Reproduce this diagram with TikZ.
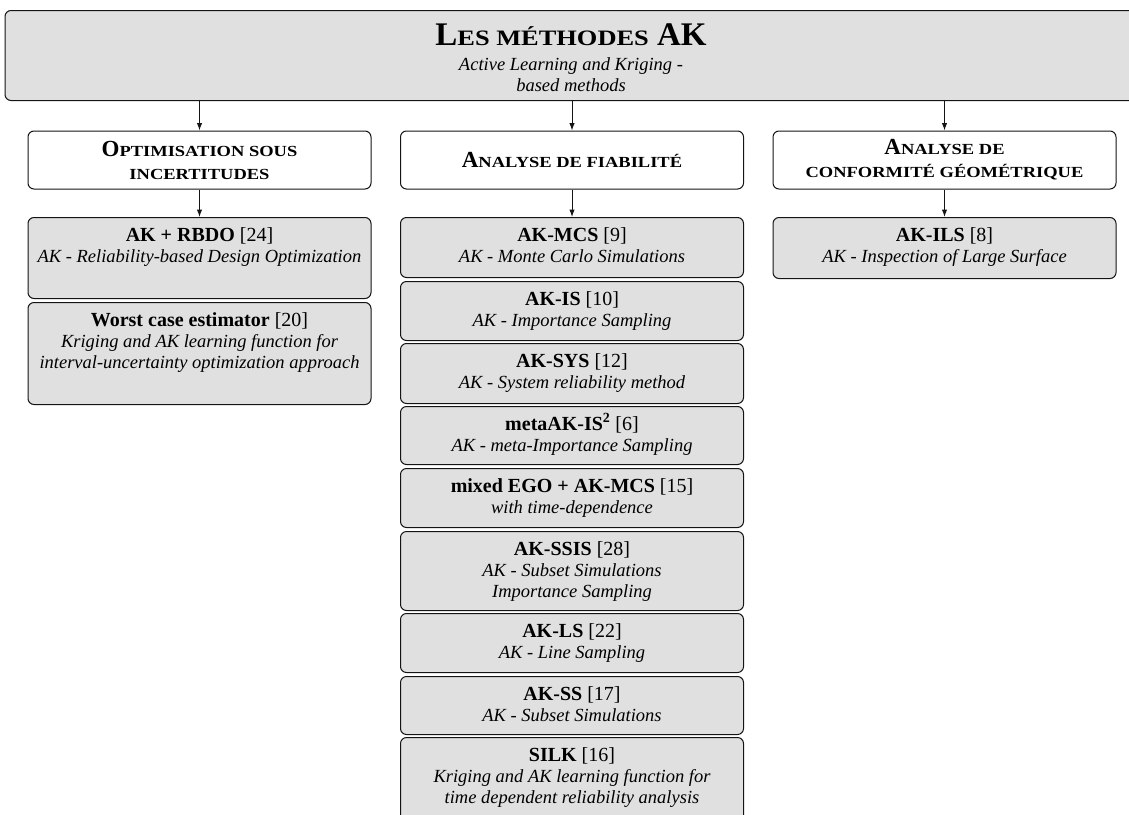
\documentclass[tikz,border=0pt]{standalone}
\usepackage{fontspec}
\setmainfont{Liberation Serif}
\newfontfamily\scfont[FakeStretch=1.2]{Liberation Serif}
\usetikzlibrary{arrows.meta}
\definecolor{boxgray}{RGB}{224,224,224}
\definecolor{edge}{RGB}{20,20,20}
% fake small caps
\newcommand\TitleSC[2]{{\bfseries\fontsize{33}{36}\selectfont #1{\scfont\fontsize{22}{36}\selectfont #2}}}
\newcommand\CatSC[2]{{\bfseries\fontsize{23}{23}\selectfont #1{\scfont\fontsize{15.4}{23}\selectfont #2}}}
\newcommand\CatRest[1]{{\scfont\bfseries\fontsize{15.4}{23}\selectfont #1}}
% category content
\newcommand\cat[1]{%
\begin{minipage}{335pt}\centering\fontsize{23}{23}\selectfont #1\end{minipage}}
% item content: height, bold heading, reference, italic text
\newcommand\itm[4]{%
\begin{minipage}[t][#1pt][t]{335pt}\centering\fontsize{18.5}{21}\selectfont
\rule{0pt}{21pt}{\fontsize{20}{21}\selectfont\textbf{#2} #3}\\
\itshape #4\end{minipage}}
\tikzset{
  basebox/.style={draw=edge, line width=1pt, rounded corners=6pt},
  topbox/.style={basebox, fill=boxgray, anchor=north, inner sep=0pt},
  catbox/.style={basebox, fill=white, minimum width=343pt, minimum height=58pt, inner sep=0pt},
  itembox/.style={basebox, fill=boxgray, anchor=north, inner xsep=4pt, inner ysep=3pt},
  arr/.style={-{Latex[length=7.5pt,width=5.5pt]}, line width=1pt, draw=edge}
}
\begin{document}
\begin{tikzpicture}[x=1pt,y=-1pt]
\useasboundingbox (0,0) rectangle (1129,814);
\clip (0,0) rectangle (1129,814);

% top box
\node[topbox] (top) at (571,10) {%
  \begin{minipage}[t][90pt][t]{1132pt}\centering\fontsize{18.5}{21}\selectfont
  \rule{0pt}{35pt}\TitleSC{L}{ES MÉTHODES}{\bfseries\fontsize{33}{36}\selectfont{} AK}\\[4pt]
  \itshape Active Learning and Kriging -\\
  based methods
  \end{minipage}};

% categories
\node[catbox] (cat1) at (199.5,160) {\cat{\CatSC{O}{PTIMISATION SOUS}\\ \CatRest{INCERTITUDES}}};
\node[catbox] (cat2) at (572,160) {\cat{\CatSC{A}{NALYSE DE FIABILITÉ}}};
\node[catbox] (cat3) at (944.5,160) {\cat{\CatSC{A}{NALYSE DE}\\ \CatRest{CONFORMITÉ GÉOMÉTRIQUE}}};

% left column
\node[itembox] (rbdo) at (199.5,217) {\itm{75}{AK + RBDO}{[24]}{AK - Reliability-based Design Optimization}};
\node[itembox] (worst) at (199.5,302) {\itm{96}{Worst case estimator}{[20]}{Kriging and AK learning function for\\ interval-uncertainty optimization approach}};

% middle column
\node[itembox] (mcs) at (572,217) {\itm{54}{AK-MCS}{[9]}{AK - Monte Carlo Simulations}};
\node[itembox] (is) at (572,281) {\itm{53}{AK-IS}{[10]}{AK - Importance Sampling}};
\node[itembox] (sys) at (572,343) {\itm{54}{AK-SYS}{[12]}{AK - System reliability method}};
\node[itembox] (meta) at (572,406) {\itm{52}{metaAK-IS\textsuperscript{2}}{[6]}{AK - meta-Importance Sampling}};
\node[itembox] (ego) at (572,468) {\itm{53}{mixed EGO + AK-MCS}{[15]}{with time-dependence}};
\node[itembox] (ssis) at (572,531) {\itm{73}{AK-SSIS}{[28]}{AK - Subset Simulations\\ Importance Sampling}};
\node[itembox] (ls) at (572,613) {\itm{53}{AK-LS}{[22]}{AK - Line Sampling}};
\node[itembox] (ss) at (572,676) {\itm{52}{AK-SS}{[17]}{AK - Subset Simulations}};
\node[itembox] (silk) at (572,737) {\itm{96}{SILK}{[16]}{Kriging and AK learning function for\\ time dependent reliability analysis}};

% right column
\node[itembox] (ils) at (944.5,217) {\itm{55}{AK-ILS}{[8]}{AK - Inspection of Large Surface}};

% arrows
\draw[arr] (top.south -| cat1) -- (cat1.north);
\draw[arr] (top.south -| cat2) -- (cat2.north);
\draw[arr] (top.south -| cat3) -- (cat3.north);
\draw[arr] (cat1.south) -- (rbdo.north);
\draw[arr] (cat2.south) -- (mcs.north);
\draw[arr] (cat3.south) -- (ils.north);
\end{tikzpicture}
\end{document}
